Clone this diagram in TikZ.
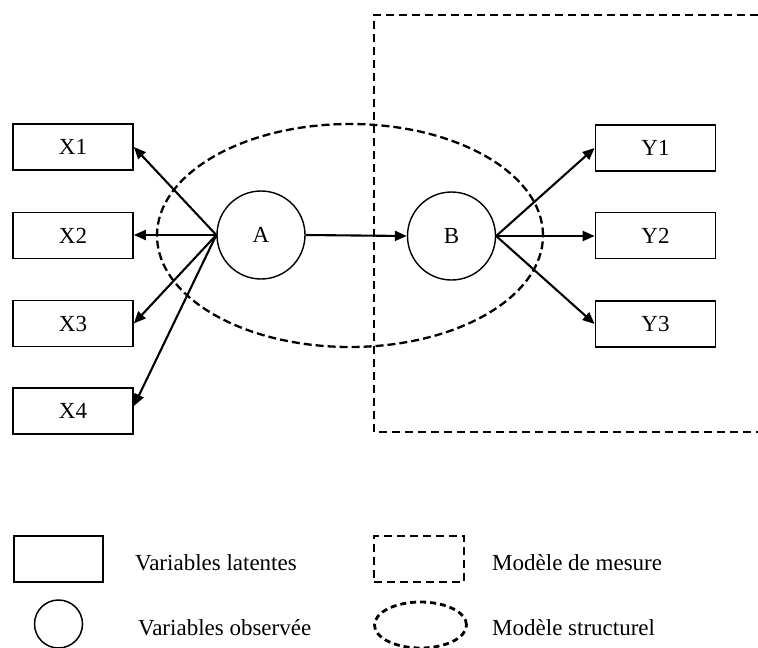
\documentclass[tikz,border=0pt]{standalone}
\usepackage{fontspec}
\setmainfont{Liberation Serif}
\usetikzlibrary{shapes.geometric,arrows.meta}
\begin{document}
\begin{tikzpicture}[x=1pt,y=-1pt,
  txt/.style={font=\fontsize{23}{27}\selectfont},
  box/.style={draw, line width=1.7pt, minimum width=120pt, minimum height=46pt, inner sep=0pt, txt},
  lat/.style={draw, circle, line width=1.4pt, minimum size=88pt, inner sep=0pt, txt},
  arr/.style={-{Triangle[length=12pt,width=10pt]}, line width=2.1pt},
  struct/.style={draw, ellipse, line width=2.3pt, dash pattern=on 8pt off 4pt, inner sep=0pt},
  mesure/.style={line width=1.7pt, dash pattern=on 8pt off 5pt},
  lbl/.style={anchor=base west, inner sep=0pt, txt}]
\useasboundingbox (0,0) rectangle (758,648);
\fill[white] (0,0) rectangle (758,648);

% measurement model frame
\coordinate (m1) at (758,15);
\coordinate (m2) at (374,15);
\coordinate (m3) at (374,432);
\coordinate (m4) at (758,432);
\draw[mesure] (m1) -- (m2) -- (m3) -- (m4);

% structural model ellipse
\node[struct, minimum width=386pt, minimum height=223pt] (S) at (350,235.5) {};

% latent circles
\node[lat] (A) at (261,235) {A};
\node[lat] (B) at (451.5,236) {B};

% boxes
\node[box] (X1) at (73,147) {X1};
\node[box] (X2) at (73,235.5) {X2};
\node[box] (X3) at (73,323.5) {X3};
\node[box] (X4) at (73,411) {X4};
\node[box] (Y1) at (655.5,148) {Y1};
\node[box] (Y2) at (655.5,235.5) {Y2};
\node[box] (Y3) at (655.5,324) {Y3};

% arrows
\draw[arr] (A.west) -- (X1.east);
\draw[arr] (A.west) -- (X2.east |- A.west);
\draw[arr] (A.west) -- (X3.east);
\draw[arr] (A.west) -- ([yshift=5pt]X4.east);
\draw[arr] (A.east) -- (B.west);
\draw[arr] (B.east) -- (Y1.west);
\draw[arr] (B.east) -- (Y2.west |- B.east);
\draw[arr] (B.east) -- (Y3.west);

% legend
\node[draw, line width=1.7pt, minimum width=89pt, minimum height=46pt, inner sep=0pt] (L1) at (58.5,559) {};
\node[draw, circle, line width=1.5pt, minimum size=48pt, inner sep=0pt] (L2) at (58.5,624) {};
\node[draw, mesure, minimum width=90pt, minimum height=46pt, inner sep=0pt] (L3) at (419,559) {};
\node[draw, ellipse, line width=2.8pt, dash pattern=on 6pt off 4pt, inner sep=0pt, minimum width=92pt, minimum height=46pt] (L4) at (420.5,625) {};
\node[lbl] (T1) at (135,570) {Variables latentes};
\node[lbl] (T2) at (138,635) {Variables observée};
\node[lbl] (T3) at (492,570) {Modèle de mesure};
\node[lbl] (T4) at (492,635) {Modèle structurel};
\end{tikzpicture}
\end{document}
